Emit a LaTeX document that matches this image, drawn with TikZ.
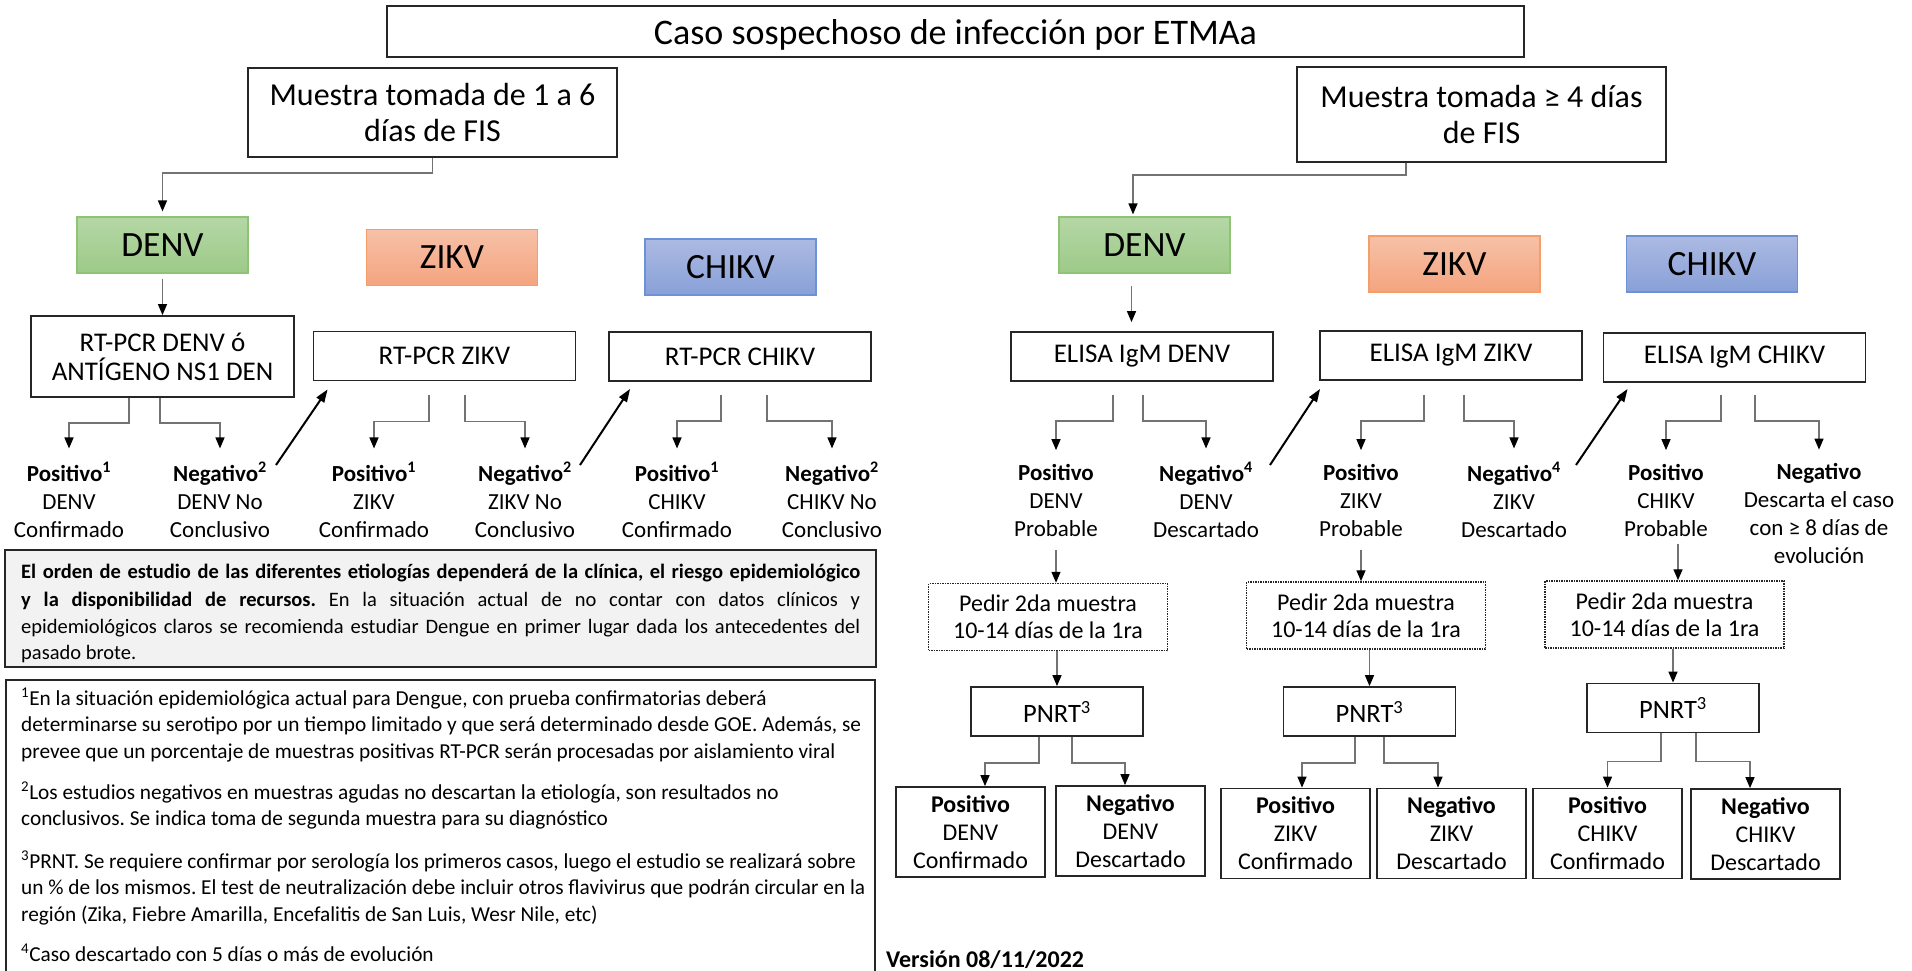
\documentclass[tikz,border=0pt]{standalone}
\usepackage{fontspec}
\setmainfont{Carlito}
\usetikzlibrary{arrows.meta,calc}
\newcommand{\fsz}[2]{\fontsize{#1}{#2}\selectfont}
\definecolor{gTop}{RGB}{181,215,166}
\definecolor{gBot}{RGB}{157,202,136}
\definecolor{gBrd}{RGB}{143,196,118}
\definecolor{oTop}{RGB}{247,193,168}
\definecolor{oBot}{RGB}{244,164,126}
\definecolor{oBrd}{RGB}{245,158,105}
\definecolor{bTop}{RGB}{172,186,226}
\definecolor{bBot}{RGB}{136,160,216}
\definecolor{bBrd}{RGB}{110,144,212}
\definecolor{lineGray}{RGB}{115,115,115}
\definecolor{noteFill}{RGB}{242,242,242}
\frenchspacing
\begin{document}
\begin{tikzpicture}[x=1pt,y=-1pt,
  box/.style={draw=black!85, line width=1.8pt, inner sep=0pt, align=center},
  vir/.style={line width=1.2pt, inner sep=0pt, minimum width=171, minimum height=56, font=\fsz{35.5}{42}},
  denvc/.style={top color=gTop, bottom color=gBot, draw=gBrd},
  zikvc/.style={top color=oTop, bottom color=oBot, draw=oBrd},
  chikvc/.style={top color=bTop, bottom color=bBot, draw=bBrd},
  test/.style={box, minimum width=262, minimum height=49, font=\fsz{27}{32}},
  res/.style={align=center, inner xsep=2pt, inner ysep=13.5pt, font=\fsz{23}{28}},
  pbox/.style={draw=black!85, densely dotted, line width=1.5pt, inner sep=0pt, align=center, minimum width=239, minimum height=67, font=\fsz{24}{27}},
  pnrt/.style={box, minimum width=172, minimum height=49, font=\fsz{26.5}{31}},
  rbox/.style={box, minimum width=149, minimum height=90, font=\fsz{24}{28}},
  conn/.style={draw=lineGray, line width=1.4pt, -{Triangle[width=9pt,length=11pt,color=black]}},
  diag/.style={draw=black, line width=2pt, -{Triangle[width=9pt,length=13pt]}},
  ftxt/.style={anchor=north west, inner sep=0pt, align=left, font=\fsz{21.3}{26.5}},
  ntxt/.style={anchor=base west, inner sep=0pt, font=\fsz{20.5}{26.5}}
]
\useasboundingbox (0,0) rectangle (1912,970);

% title and sample boxes
\node[box, minimum width=1137, minimum height=51, font=\fsz{36}{42}, text depth=0pt] (title) at (955.5,31.5) {Caso sospechoso de infección por ETMAa};
\node[box, minimum width=369, minimum height=89, font=\fsz{32}{36}] (mL) at (432.5,112.5) {Muestra tomada de 1 a 6\\días de FIS};
\node[box, minimum width=369, minimum height=95, font=\fsz{32}{36}] (mR) at (1481.5,114.5) {Muestra tomada ≥ 4 días\\de FIS};

% virus boxes
\node[vir, denvc] (dL) at (162.5,245) {DENV};
\node[vir, zikvc] (zL) at (452,257.5) {ZIKV};
\node[vir, chikvc] (cL) at (730.5,267) {CHIKV};
\node[vir, denvc] (dR) at (1144.5,245) {DENV};
\node[vir, zikvc] (zR) at (1454.5,264) {ZIKV};
\node[vir, chikvc] (cR) at (1712,264) {CHIKV};

% tests
\node[box, minimum width=263, minimum height=81, font=\fsz{27}{29}] (rtD) at (162.5,356.5) {RT-PCR DENV ó\\ANTÍGENO NS1 DEN};
\node[test] (rtZ) at (444.5,356) {RT-PCR ZIKV};
\node[test] (rtC) at (740,356.5) {RT-PCR CHIKV};
\node[test] (elD) at (1142,356.5) {ELISA IgM DENV};
\node[test] (elZ) at (1451,355.5) {ELISA IgM ZIKV};
\node[test] (elC) at (1734.5,357.5) {ELISA IgM CHIKV};

% results left
\node[res] (pD1) at (69,500) {\textbf{Positivo\textsuperscript{1}}\\DENV\\Confirmado};
\node[res] (nD1) at (220,500) {\textbf{Negativo\textsuperscript{2}}\\DENV No\\Conclusivo};
\node[res] (pZ1) at (374,500) {\textbf{Positivo\textsuperscript{1}}\\ZIKV\\Confirmado};
\node[res] (nZ1) at (525,500) {\textbf{Negativo\textsuperscript{2}}\\ZIKV No\\Conclusivo};
\node[res] (pC1) at (677,500) {\textbf{Positivo\textsuperscript{1}}\\CHIKV\\Confirmado};
\node[res] (nC1) at (832,500) {\textbf{Negativo\textsuperscript{2}}\\CHIKV No\\Conclusivo};

% results right
\node[res] (pD2) at (1056,500) {\textbf{Positivo}\\DENV\\Probable};
\node[res] (nD2) at (1206,500) {\textbf{Negativo\textsuperscript{4}}\\DENV\\Descartado};
\node[res] (pZ2) at (1361,500) {\textbf{Positivo}\\ZIKV\\Probable};
\node[res] (nZ2) at (1514,500) {\textbf{Negativo\textsuperscript{4}}\\ZIKV\\Descartado};
\node[res] (pC2) at (1666,500) {\textbf{Positivo}\\CHIKV\\Probable};
\node[res] (nC2) at (1819,513.5) {\textbf{Negativo}\\Descarta el caso\\con ≥ 8 días de\\evolución};

% second sample
\node[pbox] (qD) at (1048,617) {Pedir 2da muestra\\10-14 días de la 1ra};
\node[pbox] (qZ) at (1366,615.5) {Pedir 2da muestra\\10-14 días de la 1ra};
\node[pbox] (qC) at (1664.5,614.5) {Pedir 2da muestra\\10-14 días de la 1ra};

% PNRT
\node[pnrt] (nD) at (1057,711.5) {PNRT\textsuperscript{3}};
\node[pnrt] (nZ) at (1369.5,711.5) {PNRT\textsuperscript{3}};
\node[pnrt] (nC) at (1673,708) {PNRT\textsuperscript{3}};

% final boxes
\node[rbox] (rD1) at (970.5,832) {\textbf{Positivo}\\DENV\\Confirmado};
\node[rbox] (rD2) at (1130.5,831) {\textbf{Negativo}\\DENV\\Descartado};
\node[rbox] (rZ1) at (1295.5,833.5) {\textbf{Positivo}\\ZIKV\\Confirmado};
\node[rbox] (rZ2) at (1451.5,833.5) {\textbf{Negativo}\\ZIKV\\Descartado};
\node[rbox] (rC1) at (1607.5,833.5) {\textbf{Positivo}\\CHIKV\\Confirmado};
\node[rbox] (rC2) at (1765.5,834) {\textbf{Negativo}\\CHIKV\\Descartado};

% note box
\node[draw=black!85, line width=1.8pt, fill=noteFill, minimum width=871, minimum height=117, inner sep=0pt] (note) at (440.5,608.5) {};
\node[ntxt] (nt1) at (21,578) {\makebox[839pt][s]{\bfseries El orden de estudio de las diferentes etiologías dependerá de la clínica, el riesgo epidemiológico}};
\node[ntxt] (nt2) at (21,606) {\makebox[839pt][s]{\textbf{y la disponibilidad de recursos.} En la situación actual de no contar con datos clínicos y}};
\node[ntxt] (nt3) at (21,633) {\makebox[839pt][s]{epidemiológicos claros se recomienda estudiar Dengue en primer lugar dada los antecedentes del}};
\node[ntxt] (nt4) at (21,659) {pasado brote.};

% footnote box
\node[draw=black!85, line width=1.8pt, minimum width=869, minimum height=330, inner sep=0pt, anchor=north west] (foot) at (5,679) {};
\node[ftxt] (f1) at (21,686.5) {\strut\textsuperscript{1}En la situación epidemiológica actual para Dengue, con prueba confirmatorias deberá\\determinarse su serotipo por un tiempo limitado y que será determinado desde GOE. Además, se\\prevee que un porcentaje de muestras positivas RT-PCR serán procesadas por aislamiento viral};
\node[ftxt] (f2) at (21,780.5) {\strut\textsuperscript{2}Los estudios negativos en muestras agudas no descartan la etiología, son resultados no\\conclusivos. Se indica toma de segunda muestra para su diagnóstico};
\node[ftxt] (f3) at (21,849.5) {\strut\textsuperscript{3}PRNT. Se requiere confirmar por serología los primeros casos, luego el estudio se realizará sobre\\un \% de los mismos. El test de neutralización debe incluir otros flavivirus que podrán circular en la\\región (Zika, Fiebre Amarilla, Encefalitis de San Luis, Wesr Nile, etc)};
\node[ftxt] (f4) at (21,942.5) {\strut\textsuperscript{4}Caso descartado con 5 días o más de evolución};

\node[anchor=base west, inner sep=0pt, font=\bfseries\fsz{24}{29}] (ver) at (886,967) {Versión 08/11/2022};

% connectors: sample boxes to DENV
\draw[conn, shorten >=5pt] (mL.south) -- ++(0,15) -| (dL.north);
\coordinate (mRs) at ($(mR.south)+(-75.5,0)$);
\coordinate (dRt) at ($(dR.north)+(-11.5,0)$);
\draw[conn, shorten >=2pt] (mRs) -- ++(0,12) -| (dRt);
\draw[conn, shorten <=5pt] (dL.south) -- (rtD.north);
\coordinate (dRb) at ($(dR.south)+(-13,12)$);
\draw[conn, shorten >=9pt] (dRb) -- (dRb |- elD.north);

% branches left
\draw[conn] ($(rtD.south)+(-33.5,0)$) -- ++(0,25) -| (pD1.north);
\draw[conn] ($(rtD.south)+(-2.5,0)$) -- ++(0,25) -| (nD1.north);
\draw[conn] ($(rtZ.south)+(-15.5,14)$) -- ++(0,26) -| (pZ1.north);
\draw[conn] ($(rtZ.south)+(20.5,14)$) -- ++(0,26) -| (nZ1.north);
\draw[conn] ($(rtC.south)+(-19,13)$) -- ++(0,26) -| (pC1.north);
\draw[conn] ($(rtC.south)+(27,13)$) -- ++(0,26) -| (nC1.north);

% branches right
\draw[conn] ($(elD.south)+(-29,13)$) -- ++(0,26) -| (pD2.north);
\draw[conn] ($(elD.south)+(1,13)$) -- ++(0,26) -| (nD2.north);
\draw[conn] ($(elZ.south)+(-27,14)$) -- ++(0,26) -| (pZ2.north);
\draw[conn] ($(elZ.south)+(13,14)$) -- ++(0,26) -| (nZ2.north);
\draw[conn] ($(elC.south)+(-13.5,12)$) -- ++(0,26) -| (pC2.north);
\draw[conn] ($(elC.south)+(20.5,12)$) -- ++(0,26) -| (nC2.north);

% diagonals to next test
\coordinate (g1s) at (276,465);
\coordinate (g2s) at (580,465);
\coordinate (g3s) at (1270,465);
\coordinate (g4s) at (1576,465);
\draw[diag] (g1s) -- ($(rtZ.south west)+(15,8)$);
\draw[diag] (g2s) -- ($(rtC.south west)+(22,7)$);
\draw[diag] (g3s) -- ($(elZ.south west)+(1,8)$);
\draw[diag] (g4s) -- ($(elC.south west)+(25,6)$);

% positive to second sample
\draw[conn] (pD2.south) -- (pD2.south |- qD.north);
\draw[conn] (pZ2.south) -- (pZ2.south |- qZ.north);
\coordinate (pC2s) at ($(pC2.south)+(12,-6)$);
\draw[conn] (pC2s) -- (pC2s |- qC.north);

% second sample to PNRT
\draw[conn] (nD.north |- qD.south) -- (nD.north);
\draw[conn] (nZ.north |- qZ.south) -- (nZ.north);
\draw[conn] (nC.north |- qC.south) -- (nC.north);

% PNRT branches
\draw[conn] ($(nD.south)+(-18,0)$) -- ++(0,26) -| ($(rD1.north)+(14.5,0)$);
\draw[conn] ($(nD.south)+(15,0)$) -- ++(0,26) -| ($(rD2.north)+(-5.5,0)$);
\draw[conn] ($(nZ.south)+(-14.5,0)$) -- ++(0,26) -| ($(rZ1.north)+(6.5,0)$);
\draw[conn] ($(nZ.south)+(14.5,0)$) -- ++(0,26) -| ($(rZ2.north)+(-13.5,0)$);
\draw[conn] ($(nC.south)+(-12,0)$) -- ++(0,28) -| (rC1.north);
\draw[conn] ($(nC.south)+(23,0)$) -- ++(0,28) -| ($(rC2.north)+(-15.5,0)$);
\end{tikzpicture}
\end{document}
